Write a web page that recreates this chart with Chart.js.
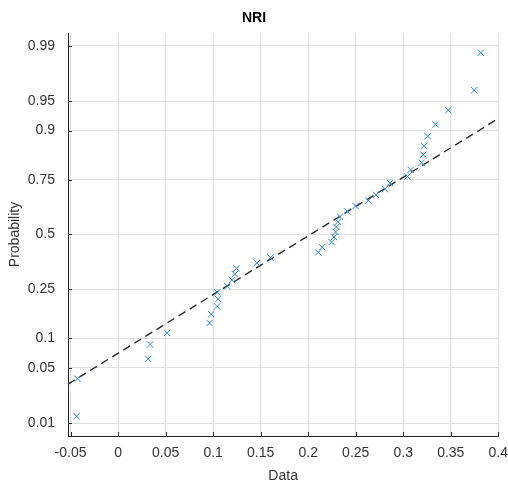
<!DOCTYPE html>
<html>
<head>
<meta charset="utf-8">
<script src="https://cdn.jsdelivr.net/npm/chart.js@4"></script>
<style>
  html, body { margin: 0; padding: 0; background: #fff; }
  canvas { display: block; }
</style>
</head>
<body>
<canvas id="chart" width="508" height="486"></canvas>
<script>
// sorted NRI values
const nriValues = [
  -0.0438, -0.0427, 0.0316, 0.0337, 0.0516, 0.0962, 0.0979, 0.1042, 0.1053, 0.1044,
  0.1149, 0.1197, 0.1228, 0.1244, 0.1460, 0.1604, 0.2105, 0.2147, 0.2246, 0.2271,
  0.2288, 0.2297, 0.2313, 0.2334, 0.2411, 0.2499, 0.2632, 0.2713, 0.2807, 0.2860,
  0.3044, 0.3078, 0.3194, 0.3211, 0.3221, 0.3257, 0.3341, 0.3474, 0.3747, 0.3815
];
// probability of each point (plotting positions)
const nriProbs = [
  0.0125, 0.0375, 0.0625, 0.0875, 0.1125, 0.1375, 0.1625, 0.1875, 0.2125, 0.2375,
  0.2625, 0.2875, 0.3125, 0.3375, 0.3625, 0.3875, 0.4125, 0.4375, 0.4625, 0.4875,
  0.5125, 0.5375, 0.5625, 0.5875, 0.6125, 0.6375, 0.6625, 0.6875, 0.7125, 0.7375,
  0.7625, 0.7875, 0.8125, 0.8375, 0.8625, 0.8875, 0.9125, 0.9375, 0.9625, 0.9875
];
// dashed reference line, ends at the axis edges
const refLineX = [-0.0527, 0.4];
const refLineProbs = [0.0324, 0.9238];

const xTicks = [-0.05, 0, 0.05, 0.1, 0.15, 0.2, 0.25, 0.3, 0.35, 0.4];
const probTicks = [0.01, 0.05, 0.1, 0.25, 0.5, 0.75, 0.9, 0.95, 0.99];
const xLimits = [-0.0527, 0.4];
const probLimits = [0.00646, 0.99354];

// inverse normal cdf (Acklam), used for the probability axis
function norminv(p) {
  const a = [-3.969683028665376e+01, 2.209460984245205e+02, -2.759285104469687e+02, 1.383577518672690e+02, -3.066479806614716e+01, 2.506628277459239e+00];
  const b = [-5.447609879822406e+01, 1.615858368580409e+02, -1.556989798598866e+02, 6.680131188771972e+01, -1.328068155288572e+01];
  const c = [-7.784894002430293e-03, -3.223964580411365e-01, -2.400758276255827e+00, -2.549732539343734e+00, 4.374664141464968e+00, 2.938163982698783e+00];
  const d = [7.784695709041462e-03, 3.224671290700398e-01, 2.445134137142996e+00, 3.754408661907416e+00];
  const pl = 0.02425;
  let q, r;
  if (p < pl) {
    q = Math.sqrt(-2 * Math.log(p));
    return (((((c[0]*q+c[1])*q+c[2])*q+c[3])*q+c[4])*q+c[5]) / ((((d[0]*q+d[1])*q+d[2])*q+d[3])*q+1);
  }
  if (p > 1 - pl) {
    q = Math.sqrt(-2 * Math.log(1 - p));
    return -(((((c[0]*q+c[1])*q+c[2])*q+c[3])*q+c[4])*q+c[5]) / ((((d[0]*q+d[1])*q+d[2])*q+d[3])*q+1);
  }
  q = p - 0.5;
  r = q * q;
  return (((((a[0]*r+a[1])*r+a[2])*r+a[3])*r+a[4])*r+a[5])*q / (((((b[0]*r+b[1])*r+b[2])*r+b[3])*r+b[4])*r+1);
}

const FONT = "'Liberation Sans', Arial, sans-serif";
const TEXT = '#333333';
const AXIS = '#262626';
const GRID = '#e0e0e0';

// matlab style ticks pointing into the plot
const innerTicks = {
  id: 'innerTicks',
  afterDraw(chart) {
    const {ctx, chartArea, scales: {x, y}} = chart;
    ctx.save();
    ctx.strokeStyle = AXIS;
    ctx.lineWidth = 1;
    ctx.beginPath();
    x.ticks.forEach(t => {
      const px = Math.round(x.getPixelForValue(t.value)) + 0.5;
      ctx.moveTo(px, chartArea.bottom);
      ctx.lineTo(px, chartArea.bottom - 4);
    });
    y.ticks.forEach(t => {
      const py = Math.round(y.getPixelForValue(t.value)) + 0.5;
      ctx.moveTo(chartArea.left, py);
      ctx.lineTo(chartArea.left + 4, py);
    });
    ctx.stroke();
    ctx.restore();
  }
};

new Chart(document.getElementById('chart'), {
  type: 'scatter',
  data: {
    datasets: [
      {
        label: 'NRI',
        data: nriValues.map((v, i) => ({x: v, y: norminv(nriProbs[i])})),
        pointStyle: 'crossRot',
        pointRadius: 4.5,
        pointBorderWidth: 1,
        borderColor: '#2f86c8',
        backgroundColor: '#2f86c8',
        order: 0
      },
      {
        label: 'reference',
        data: refLineX.map((v, i) => ({x: v, y: norminv(refLineProbs[i])})),
        showLine: true,
        pointRadius: 0,
        borderColor: '#2a2a2a',
        borderWidth: 1.4,
        borderDash: [8, 5],
        order: 1
      }
    ]
  },
  options: {
    responsive: false,
    animation: false,
    layout: { padding: { top: 0, right: 0, bottom: 0, left: 0 } },
    plugins: {
      legend: { display: false },
      tooltip: { enabled: false },
      title: {
        display: true,
        text: 'NRI',
        color: '#000',
        font: { family: FONT, size: 14, weight: 'bold' },
        padding: { top: 10, bottom: 6.2 }
      }
    },
    scales: {
      x: {
        type: 'linear',
        min: xLimits[0],
        max: xLimits[1],
        afterBuildTicks: scale => { scale.ticks = xTicks.map(v => ({value: v})); },
        afterFit: scale => { scale.height = 50; scale.paddingRight = 9.7; },
        grid: { color: GRID, drawTicks: false },
        border: { display: true, color: AXIS, width: 1 },
        ticks: {
          color: TEXT,
          font: { family: FONT, size: 14 },
          padding: 9,
          maxRotation: 0,
          autoSkip: false,
          callback: v => String(v)
        },
        title: {
          display: true,
          text: 'Data',
          color: TEXT,
          font: { family: FONT, size: 14 },
          padding: { top: 0, bottom: 1 }
        }
      },
      y: {
        type: 'linear',
        min: norminv(probLimits[0]),
        max: norminv(probLimits[1]),
        afterBuildTicks: scale => { scale.ticks = probTicks.map(p => ({value: norminv(p)})); },
        afterFit: scale => { scale.width = 68; },
        grid: { color: GRID, drawTicks: false },
        border: { display: true, color: AXIS, width: 1 },
        ticks: {
          color: TEXT,
          font: { family: FONT, size: 14 },
          padding: 13,
          autoSkip: false,
          callback: (v, i) => String(probTicks[i])
        },
        title: {
          display: true,
          text: 'Probability',
          color: TEXT,
          font: { family: FONT, size: 14 },
          padding: { top: 7, bottom: 0 }
        }
      }
    }
  },
  plugins: [innerTicks]
});
</script>
</body>
</html>
